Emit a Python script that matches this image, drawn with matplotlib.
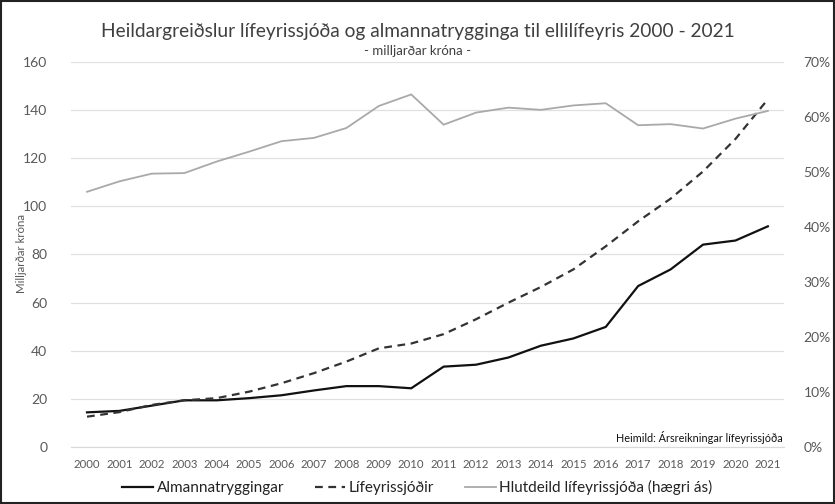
import matplotlib
matplotlib.use("Agg")
import matplotlib.pyplot as plt
from matplotlib.patches import Rectangle
from matplotlib.ticker import FuncFormatter, MultipleLocator

years = list(range(2000, 2022))
almannatryggingar = [14.4, 15.0, 17.2, 19.4, 19.4, 20.3, 21.5, 23.5, 25.3, 25.3, 24.4, 33.4,
                     34.2, 37.2, 42.1, 45.1, 49.9, 66.9, 73.8, 84.1, 85.8, 91.7]
lifeyrissjodir = [12.6, 14.5, 17.5, 19.4, 20.3, 23.0, 26.5, 30.7, 35.5, 41.0, 43.0, 46.9,
                  53.1, 60.0, 66.5, 73.8, 83.4, 93.8, 103.2, 114.5, 128.0, 144.5]
hlutdeild = [46.4, 48.3, 49.7, 49.8, 51.9, 53.7, 55.6, 56.2, 58.0, 62.0, 64.1, 58.6,
             60.8, 61.7, 61.3, 62.1, 62.5, 58.5, 58.7, 57.9, 59.7, 61.1]

title = "Heildargreiðslur lífeyrissjóða og almannatrygginga til ellilífeyris 2000 - 2021"
subtitle = "- milljarðar króna -"
ylabel = "Milljarðar króna"
source = "Heimild: Ársreikningar lífeyrissjóða"
labels = ["Almannatryggingar", "Lífeyrissjóðir", "Hlutdeild lífeyrissjóða (hægri ás)"]

plt.rcParams['font.family'] = ['Lato', 'DejaVu Sans']
tick_color = "#595959"

fig = plt.figure(figsize=(8.35, 5.04), dpi=100)
ax = fig.add_axes([0.0848, 0.1131, 0.939 - 0.0848, 0.877 - 0.1131])
ax2 = ax.twinx()

x = list(range(len(years)))
ax.plot(x, almannatryggingar, color="#111111", lw=1.6, label=labels[0], zorder=3)
ax.plot(x, lifeyrissjodir, color="#333333", lw=1.6, ls=(0, (3.5, 2.5)), label=labels[1], zorder=3)
ax2.plot(x, hlutdeild, color="#a9a9a9", lw=1.3, label=labels[2], zorder=2)

ax.set_xlim(-0.5, len(years) - 0.5)
ax.set_ylim(0, 160)
ax2.set_ylim(0, 70)
ax.yaxis.set_major_locator(MultipleLocator(20))
ax2.yaxis.set_major_locator(MultipleLocator(10))
ax2.yaxis.set_major_formatter(FuncFormatter(lambda v, p: f"{int(round(v))}%"))
ax.set_xticks(x)
ax.set_xticklabels([str(y) for y in years])

ax.grid(axis="y", color="#e0e0e0", lw=0.9)
ax.set_axisbelow(True)
for a in (ax, ax2):
    for s in a.spines.values():
        s.set_visible(False)
ax.spines["bottom"].set_visible(True)
ax.spines["bottom"].set_color("#d9d9d9")
ax.tick_params(axis="both", length=0, colors=tick_color)
ax.tick_params(axis="y", labelsize=10, pad=17)
ax.tick_params(axis="x", labelsize=8.2, pad=9)
ax2.tick_params(axis="y", length=0, colors=tick_color, labelsize=10, pad=14)

fig.text(0.026, 0.498, ylabel, rotation=90, ha="center", va="center", fontsize=8.3, color=tick_color)

fig.text(0.5, 0.938, title, ha="center", va="center", fontsize=13.8, color="#404040")
fig.text(0.5, 0.899, subtitle, ha="center", va="center", fontsize=9.5, color="#404040")
fig.text(0.938, 0.131, source, ha="right", va="center", fontsize=7.8, color="#111111")

h1, l1 = ax.get_legend_handles_labels()
h2, l2 = ax2.get_legend_handles_labels()
fig.legend(h1 + h2, l1 + l2, loc="center", bbox_to_anchor=(0.5, 0.032), ncol=3,
           frameon=False, fontsize=11, handlelength=2.0, columnspacing=2.0,
           handletextpad=0.25, labelcolor="#222222")

fig.add_artist(Rectangle((0.001, 0.001), 0.998, 0.998, transform=fig.transFigure,
                         fill=False, edgecolor="#222222", lw=1.5))

fig.savefig("out.png", dpi=100, facecolor="white")
